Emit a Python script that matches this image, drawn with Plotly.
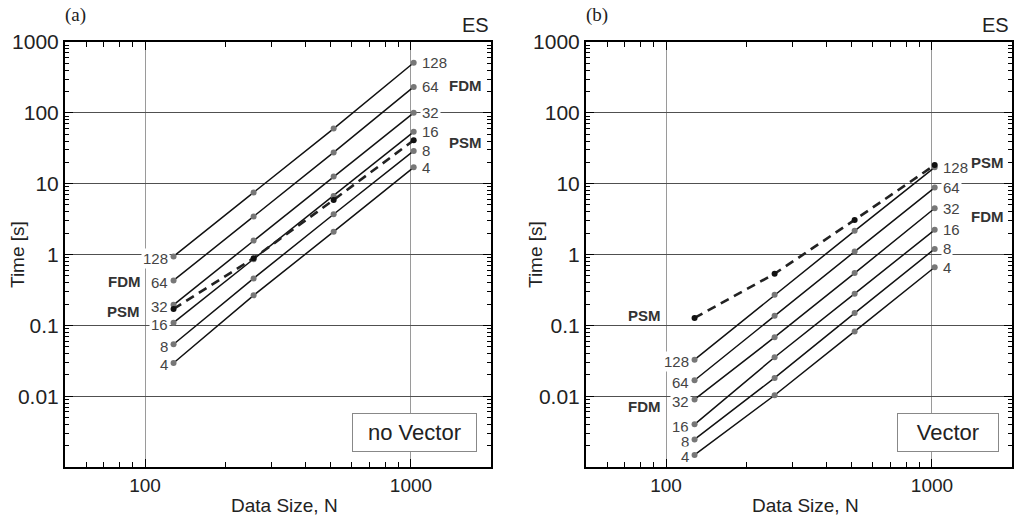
import math
import plotly.graph_objects as go

# ---------------- data ----------------
N = [128, 256, 512, 1024]
threads = ["128", "64", "32", "16", "8", "4"]

# panel (a): no Vector
fdm_novec = [
    [0.94, 7.5, 60, 510],
    [0.43, 3.45, 27.6, 232],
    [0.195, 1.57, 12.6, 100],
    [0.109, 0.86, 6.7, 54],
    [0.054, 0.46, 3.7, 29],
    [0.0294, 0.265, 2.1, 17],
]
psm_novec = [0.17, 0.887, 5.9, 41]

# panel (b): Vector
fdm_vec = [
    [0.0328, 0.27, 2.16, 17],
    [0.0168, 0.137, 1.1, 8.8],
    [0.009, 0.068, 0.546, 4.5],
    [0.004, 0.0354, 0.28, 2.23],
    [0.00245, 0.0181, 0.149, 1.2],
    [0.00148, 0.0103, 0.082, 0.66],
]
psm_vec = [0.127, 0.535, 3.08, 18.3]

x_major = [100, 1000]
x_minor = [50, 60, 70, 80, 90, 200, 300, 400, 500, 600, 700, 800, 900, 2000]
y_major = [0.001, 0.01, 0.1, 1, 10, 100, 1000]
y_ticktext = ["", "0.01", "0.1", "1", "10", "100", "1000"]
y_minor = [m * d for d in [0.001, 0.01, 0.1, 1, 10, 100] for m in range(2, 10)]

W, H = 1014, 518
FONT = "Liberation Sans, Arial, sans-serif"

fig = go.Figure()

panels = [
    ("x", "y", fdm_novec, psm_novec),
    ("x2", "y2", fdm_vec, psm_vec),
]
for xa, ya, fdm, psm in panels:
    for vals in fdm:
        fig.add_trace(go.Scatter(
            x=N, y=vals, xaxis=xa, yaxis=ya, mode="lines+markers",
            line=dict(color="#111111", width=1.5),
            marker=dict(color="#777777", size=6),
            showlegend=False, hoverinfo="skip"))
    fig.add_trace(go.Scatter(
        x=N, y=psm, xaxis=xa, yaxis=ya, mode="lines+markers",
        line=dict(color="#222222", width=2.6, dash="9px,6px"),
        marker=dict(color="#111111", size=6),
        showlegend=False, hoverinfo="skip"))

def px(x):
    return x / W

def py(y):
    return 1 - y / H

xcommon = dict(
    type="log", range=[1.69897, 3.30103],
    tickvals=x_major, ticktext=["100", "1000"],
    ticks="inside", ticklen=8, tickwidth=1, tickcolor="black",
    showgrid=True, gridcolor="#9a9a9a", gridwidth=1,
    showline=True, linecolor="black", linewidth=2, mirror="allticks",
    zeroline=False,
    tickfont=dict(family=FONT, size=19, color="#222"),
    minor=dict(tickvals=x_minor, ticks="inside", ticklen=5,
               tickcolor="black", tickwidth=1, showgrid=False),
)
ycommon = dict(
    type="log", range=[-3, 3],
    tickvals=y_major, ticktext=y_ticktext,
    ticks="inside", ticklen=8, tickwidth=1, tickcolor="black",
    showgrid=True, gridcolor="#505050", gridwidth=1,
    showline=True, linecolor="black", linewidth=2, mirror="allticks",
    zeroline=False,
    tickfont=dict(family=FONT, size=21, color="#222"),
    minor=dict(tickvals=y_minor, ticks="inside", ticklen=4,
               tickcolor="black", tickwidth=1, showgrid=False),
)

dom_y = [51 / H, 476 / H]
fig.update_layout(
    width=W, height=H,
    margin=dict(l=0, r=0, t=0, b=0, autoexpand=False),
    paper_bgcolor="white", plot_bgcolor="white",
    xaxis=dict(domain=[px(65), px(491)], anchor="y", **xcommon),
    yaxis=dict(domain=dom_y, anchor="x", **ycommon),
    xaxis2=dict(domain=[px(586), px(1012)], anchor="y2", **xcommon),
    yaxis2=dict(domain=dom_y, anchor="x2", **ycommon),
)

ann = []
num_font = dict(family=FONT, size=15, color="#444")
bold_font = dict(family=FONT, size=15, color="#333")

# number labels on the curves (log axes: annotation coords are log10)
for xr, yr, fdm in [("x", "y", fdm_novec), ("x2", "y2", fdm_vec)]:
    for lab, vals in zip(threads, fdm):
        ann.append(dict(x=math.log10(N[-1]), y=math.log10(vals[-1]),
                        xref=xr, yref=yr, text=lab,
                        showarrow=False, xanchor="left", yanchor="middle",
                        xshift=6, font=num_font, bgcolor="white", borderpad=1))
        ann.append(dict(x=math.log10(N[0]), y=math.log10(vals[0]),
                        xref=xr, yref=yr, text=lab,
                        showarrow=False, xanchor="right", yanchor="middle",
                        xshift=-4, yshift=-2, font=num_font,
                        bgcolor="white", borderpad=1))

# bold method labels
for text, x, y, anchor in [
    ("FDM", 447, 85, "left"), ("PSM", 447, 142, "left"),
    ("FDM", 143, 281, "right"), ("PSM", 142, 311, "right"),
    ("PSM", 969, 163, "left"), ("FDM", 969, 217, "left"),
    ("PSM", 663, 315, "right"), ("FDM", 663, 406, "right"),
]:
    ann.append(dict(x=px(x), y=py(y), xref="paper", yref="paper",
                    text="<b>%s</b>" % text, showarrow=False,
                    xanchor=anchor, yanchor="middle", font=bold_font))

# panel letters and ES
for text, x in [("(a)", 63), ("(b)", 584)]:
    ann.append(dict(x=px(x), y=py(15), xref="paper", yref="paper", text=text,
                    showarrow=False, xanchor="left", yanchor="middle",
                    font=dict(family="Liberation Serif, Times New Roman, serif",
                              size=19, color="#222")))
for x in [491, 1011]:
    ann.append(dict(x=px(x), y=py(25), xref="paper", yref="paper", text="ES",
                    showarrow=False, xanchor="right", yanchor="middle",
                    font=dict(family=FONT, size=20, color="#222")))

# axis titles
for x in [17, 535]:
    ann.append(dict(x=px(x), y=py(255), xref="paper", yref="paper",
                    text="Time [s]", textangle=-90, showarrow=False,
                    xanchor="center", yanchor="middle",
                    font=dict(family=FONT, size=19, color="#222")))
for x in [284, 805]:
    ann.append(dict(x=px(x), y=py(505), xref="paper", yref="paper",
                    text="Data Size, N", showarrow=False,
                    xanchor="center", yanchor="middle",
                    font=dict(family=FONT, size=19, color="#222")))

# boxed panel captions
for text, x0, x1 in [("no Vector", 352, 477), ("Vector", 897, 999)]:
    ann.append(dict(x=px((x0 + x1) / 2), y=py(432.5), xref="paper", yref="paper",
                    text=text, showarrow=False, xanchor="center", yanchor="middle",
                    width=x1 - x0 - 4, height=35,
                    font=dict(family=FONT, size=22, color="#222"),
                    bordercolor="#888888", borderwidth=1, borderpad=1,
                    bgcolor="white"))

fig.update_layout(annotations=ann)
fig.write_html("out.html",
               config={"displayModeBar": False, "staticPlot": True},
               post_script="document.body.style.margin='0px';document.body.style.overflow='hidden';")
